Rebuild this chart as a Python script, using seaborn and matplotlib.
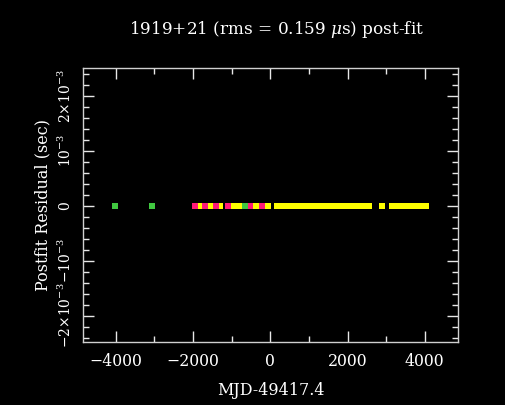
import matplotlib
matplotlib.use("Agg")
import matplotlib.pyplot as plt
import seaborn as sns
import pandas as pd
from matplotlib.ticker import MultipleLocator, FixedLocator

# ---- data (MJD-49417.4 in days, residual in sec) ----
green_x = [-4030, -3050, -642]
green_y = [0, 0, 0]
magenta_x = [-1948, -1689, -1405, -1107, -525, -202]
magenta_y = [0, 0, 0, 0, 0, 0]
yellow_x = [-1806, -1526, -1379, -1301, -1004, -874, -745, -577, -396, -318,
            -111, -60,
            180, 280, 380, 480, 580, 680, 780, 880, 980, 1080, 1180, 1280,
            1380, 1480, 1580, 1680, 1780, 1880, 1980, 2080, 2180, 2280,
            2380, 2480, 2560,
            2890,
            3160, 3260, 3360, 3460, 3560, 3660, 3760, 3860, 3960, 4040]
yellow_y = [0] * len(yellow_x)

title = "1919+21 (rms = 0.159 $\\mu$s) post-fit"
xlabel = "MJD-49417.4"
ylabel = "Postfit Residual (sec)"
xticks = [-4000, -2000, 0, 2000, 4000]
yticks = [-2e-3, -1e-3, 0, 1e-3, 2e-3]
ytick_labels = ["\u22122\u00d710$^{-3}$", "\u221210$^{-3}$", "0", "10$^{-3}$", "2\u00d710$^{-3}$"]

sns.set_style("dark")
plt.rcParams['font.family'] = ['DejaVu Serif']
plt.rcParams['mathtext.fontset'] = 'dejavuserif'

fg = "#e8e8e8"
fig = plt.figure(figsize=(5.06, 4.05), dpi=100, facecolor="black")
ax = fig.add_axes([83.3 / 506, 1 - 342.3 / 405, (458 - 83.3) / 506, (342.3 - 68.3) / 405])
ax.set_facecolor("black")

df_y = pd.DataFrame({"x": yellow_x, "y": yellow_y})
df_m = pd.DataFrame({"x": magenta_x, "y": magenta_y})
df_g = pd.DataFrame({"x": green_x, "y": green_y})
ms = 16
sns.scatterplot(data=df_y, x="x", y="y", ax=ax, color="#ffff00", marker="s", s=ms, linewidth=0)
sns.scatterplot(data=df_m, x="x", y="y", ax=ax, color="#ff1a78", marker="s", s=ms, linewidth=0)
sns.scatterplot(data=df_g, x="x", y="y", ax=ax, color="#40c840", marker="s", s=ms, linewidth=0)

ax.set_xlim(-4840, 4860)
ax.set_ylim(-2.485e-3, 2.498e-3)
ax.grid(False)

ax.xaxis.set_major_locator(FixedLocator(xticks))
ax.xaxis.set_minor_locator(MultipleLocator(1000))
ax.yaxis.set_major_locator(FixedLocator(yticks))
ax.yaxis.set_minor_locator(MultipleLocator(0.2e-3))
ax.set_yticklabels(ytick_labels)

for s in ax.spines.values():
    s.set_color("#d0d0d0")
    s.set_linewidth(1.0)

ax.tick_params(which="both", direction="in", top=True, right=True, bottom=True, left=True,
               colors=fg, labelcolor="white")
ax.tick_params(which="major", length=8, width=1)
ax.tick_params(which="minor", length=4, width=1)
ax.tick_params(axis="x", pad=8, labelsize=11.3)
ax.tick_params(axis="y", pad=13, labelsize=10)
for lab in ax.get_yticklabels():
    lab.set_rotation(90)
    lab.set_va("center")
    lab.set_ha("center")

ax.set_xlabel(xlabel, color="white", fontsize=11.5, labelpad=8)
ax.set_ylabel(ylabel, color="white", fontsize=11.5, labelpad=4)
fig.text(277 / 506, 1 - 30 / 405, title, color="white", fontsize=12.2, ha="center", va="center")

fig.savefig("out.png", dpi=100, facecolor="black")
